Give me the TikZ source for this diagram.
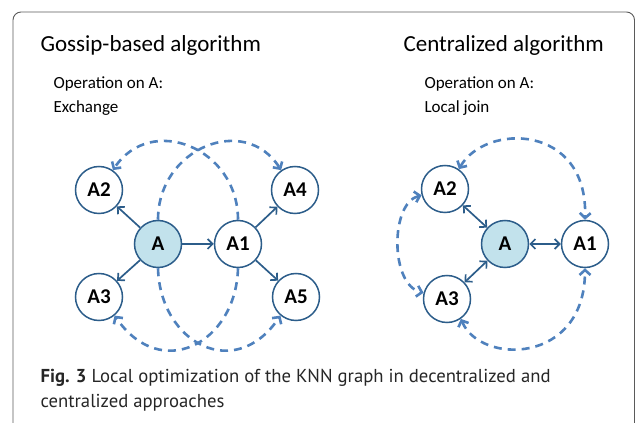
\documentclass[tikz,border=0pt]{standalone}
\usepackage{fontspec}
\setmainfont{Carlito}
\newfontfamily\capfont{PT Sans}
\usetikzlibrary{arrows.meta}
\definecolor{nodeline}{RGB}{44,93,138}
\definecolor{nodefill}{RGB}{194,226,236}
\definecolor{dashblue}{RGB}{79,129,189}
\definecolor{framegray}{RGB}{90,90,90}

\begin{document}
\begin{tikzpicture}[x=1pt,y=1pt,
  knn/.style={circle,draw=nodeline,line width=1.5pt,fill=white,minimum size=47pt,inner sep=0pt,
    font=\fontsize{21}{24}\selectfont\bfseries},
  hub/.style={knn,fill=nodefill},
  link/.style={draw=nodeline,line width=1.7pt,-{Straight Barb[length=5pt,width=10pt]}},
  bilink/.style={link,{Straight Barb[length=5pt,width=10pt]}-{Straight Barb[length=5pt,width=10pt]}},
  gossip/.style={draw=dashblue,line width=2.6pt,dash pattern=on 8pt off 6pt,
    -{Straight Barb[length=5pt,width=11pt]}},
  bigossip/.style={gossip,{Straight Barb[length=5pt,width=11pt]}-{Straight Barb[length=5pt,width=11pt]}},
  heading/.style={anchor=base west,font=\fontsize{23}{26}\selectfont},
  note/.style={anchor=base west,align=left,font=\fontsize{17}{24}\selectfont}
]
  \useasboundingbox (0,0) rectangle (635,423);
  \clip (0,0) rectangle (635,423);
  %%%%% frame %%%%%
  \draw[framegray,line width=0.9pt,rounded corners=8pt] (13,-20) -- (13,411) -- (634.5,411) -- (634.5,-20);

  %%%%% titles %%%%%
  \node[heading] (tgossip) at (37,371) {Gossip-based algorithm};
  \node[heading] (tcentral) at (400,371) {Centralized algorithm};
  % base anchor sits on the last line
  \node[note] (ogossip) at (50,310) {Operation on A:\\Exchange};
  \node[note] (ocentral) at (421,310) {Operation on A:\\Local join};

  %%%%% gossip-based %%%%%
  \node[hub] (gA) at (158,179) {A};
  \node[knn] (gA1) at (238,179) {A1};
  \node[knn] (gA2) at (99,233) {A2};
  \node[knn] (gA3) at (99,126) {A3};
  \node[knn] (gA4) at (295,233) {A4};
  \node[knn] (gA5) at (296,126) {A5};

  \draw[link] (gA) -- (gA1);
  \draw[link] (gA) -- (gA2);
  \draw[link] (gA) -- (gA3);
  \draw[link] (gA1) -- (gA4);
  \draw[link] (gA1) -- (gA5);

  \draw[gossip] (gA.north) .. controls (158,275) and (245,310) .. (gA4.125);
  \draw[gossip] (gA1.north) .. controls (238,275) and (151,310) .. (gA2.55);
  \draw[gossip] (gA.south) .. controls (160,80) and (235,40) .. (gA5.230);
  \draw[gossip] (gA1.south) .. controls (236,80) and (161,40) .. (gA3.310);

  %%%%% centralized %%%%%
  \node[hub] (cA) at (505,179) {A};
  \node[knn] (cA1) at (585,179) {A1};
  \node[knn] (cA2) at (445,234) {A2};
  \node[knn] (cA3) at (447,124) {A3};

  \draw[bilink] (cA) -- (cA1);
  \draw[bilink] (cA) -- (cA2);
  \draw[bilink] (cA) -- (cA3);

  \draw[bigossip] (cA2.55) .. controls (485,300) and (588,300) .. (cA1.north);
  \draw[bigossip] (cA2.195) .. controls (390,220) and (390,138) .. (cA3.165);
  \draw[bigossip] (cA3.-55) .. controls (480,58) and (585,58) .. (cA1.south);

  %%%%% caption %%%%%
  \node[anchor=base west,align=left,font=\capfont\fontsize{18.7}{25}\selectfont,text=black!85] (caption) at (37,15)
    {\textbf{Fig. 3} Local optimization of the KNN graph in decentralized and\\centralized approaches};
\end{tikzpicture}
\end{document}
